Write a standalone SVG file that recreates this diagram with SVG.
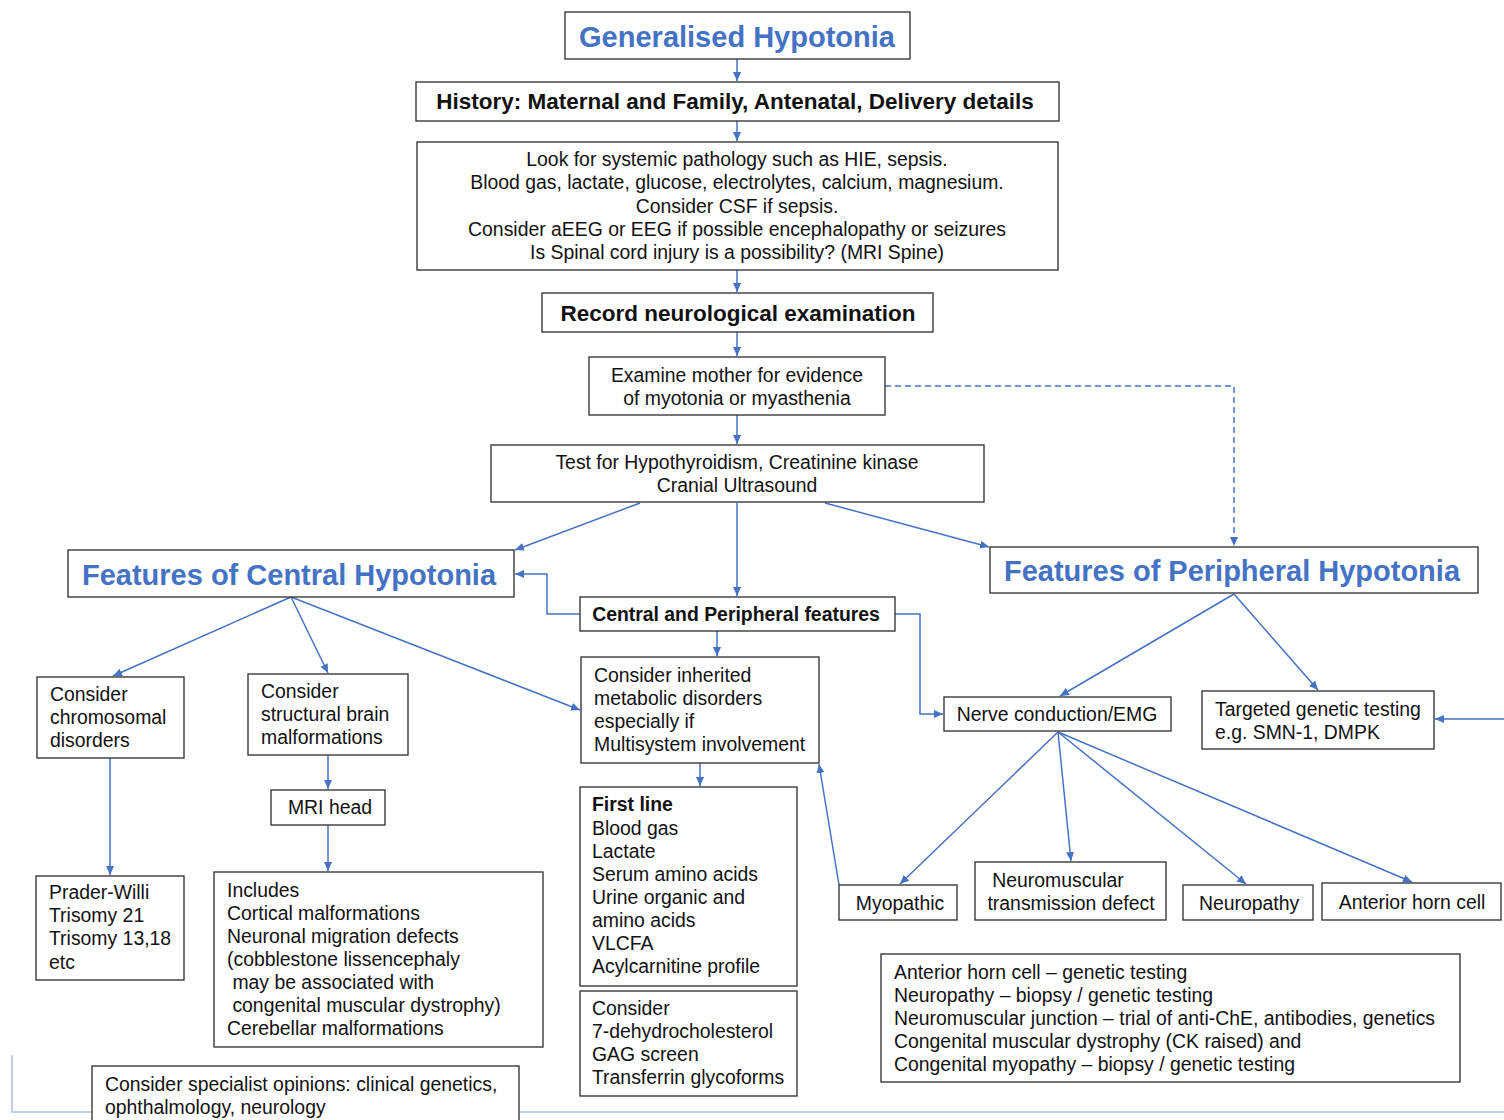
<svg xmlns="http://www.w3.org/2000/svg" width="1504" height="1120" viewBox="0 0 1504 1120">
<defs>
<style>
.box{fill:#fff;stroke:#3a3a3a;stroke-width:1.4}
.t{font-family:"Liberation Sans",Arial,sans-serif;font-size:19.4px;fill:#111}
.c{text-anchor:middle}
.b{font-weight:bold}
.h{font-family:"Liberation Sans",Arial,sans-serif;font-weight:bold;font-size:29px;fill:#4472C4}
.ln{fill:none;stroke:#4472C4;stroke-width:1.5;marker-end:url(#ah)}
.dash{stroke-dasharray:6,4}
.lb{fill:none;stroke:#a9c1ea;stroke-width:1.5}
</style>
<marker id="ah" viewBox="0 0 10 10" refX="10" refY="5" markerWidth="9" markerHeight="9" orient="auto" markerUnits="userSpaceOnUse"><path d="M0,0.5 L10,5 L0,9.5 z" fill="#4472C4"/></marker>
</defs>
<rect width="1504" height="1120" fill="#fff"/>

<g id="connectors">
<line class="ln" x1="737" y1="59" x2="737" y2="81"/>
<line class="ln" x1="737" y1="121" x2="737" y2="141"/>
<line class="ln" x1="737" y1="270" x2="737" y2="292"/>
<line class="ln" x1="737" y1="332" x2="737" y2="356"/>
<line class="ln" x1="737" y1="415" x2="737" y2="444"/>
<polyline class="ln dash" points="885,386 1234,386 1234,546"/>
<line class="ln" x1="640" y1="503" x2="515" y2="550"/>
<line class="ln" x1="737" y1="503" x2="737" y2="596"/>
<line class="ln" x1="825" y1="503" x2="989" y2="547"/>
<polyline class="ln" points="580,614 547,614 547,574 515,574"/>
<polyline class="ln" points="895,614 920,614 920,714 943,714"/>
<line class="ln" x1="717" y1="631" x2="717" y2="656"/>
<line class="ln" x1="291" y1="597" x2="113" y2="676"/>
<line class="ln" x1="291" y1="597" x2="328" y2="673"/>
<line class="ln" x1="291" y1="597" x2="580" y2="710"/>
<line class="ln" x1="110" y1="758" x2="110" y2="875"/>
<line class="ln" x1="328" y1="755" x2="328" y2="789"/>
<line class="ln" x1="328" y1="825" x2="328" y2="871"/>
<line class="ln" x1="700" y1="763" x2="700" y2="786"/>
<line class="ln" x1="839" y1="885" x2="819" y2="764"/>
<line class="ln" x1="1234" y1="594" x2="1060" y2="696"/>
<line class="ln" x1="1234" y1="594" x2="1318" y2="690"/>
<line class="ln" x1="1504" y1="719" x2="1435" y2="719"/>
<line class="ln" x1="1058" y1="732" x2="900" y2="884"/>
<line class="ln" x1="1058" y1="732" x2="1071" y2="861"/>
<line class="ln" x1="1058" y1="732" x2="1246" y2="884"/>
<line class="ln" x1="1058" y1="732" x2="1412" y2="882"/>
<polyline class="lb" points="12,1055 12,1112 92,1112"/>
<line class="lb" x1="519" y1="1112" x2="1504" y2="1112"/>
</g>

<g id="n-generalised">
<rect class="box" x="565" y="12" width="345" height="47"/>
<text class="h c" x="737" y="47">Generalised Hypotonia</text>
</g>
<g id="n-history">
<rect class="box" x="416" y="82" width="643" height="39"/>
<text class="t b c" x="735" y="109" style="font-size:22.5px">History: Maternal and Family, Antenatal, Delivery details</text>
</g>
<g id="n-systemic">
<rect class="box" x="417" y="142" width="641" height="128"/>
<text class="t c" x="737" y="166">Look for systemic pathology such as HIE, sepsis.</text>
<text class="t c" x="737" y="189">Blood gas, lactate, glucose, electrolytes, calcium, magnesium.</text>
<text class="t c" x="737" y="213">Consider CSF if sepsis.</text>
<text class="t c" x="737" y="236">Consider aEEG or EEG if possible encephalopathy or seizures</text>
<text class="t c" x="737" y="259">Is Spinal cord injury is a possibility? (MRI Spine)</text>
</g>
<g id="n-record">
<rect class="box" x="542" y="293" width="391" height="39"/>
<text class="t b c" x="738" y="321" style="font-size:22.5px">Record neurological examination</text>
</g>
<g id="n-mother">
<rect class="box" x="589" y="357" width="296" height="58"/>
<text class="t c" x="737" y="382">Examine mother for evidence</text>
<text class="t c" x="737" y="405">of myotonia or myasthenia</text>
</g>
<g id="n-test">
<rect class="box" x="491" y="445" width="493" height="57"/>
<text class="t c" x="737" y="469">Test for Hypothyroidism, Creatinine kinase</text>
<text class="t c" x="737" y="492">Cranial Ultrasound</text>
</g>
<g id="n-central">
<rect class="box" x="68" y="550" width="446" height="47"/>
<text class="h c" x="289" y="585">Features of Central Hypotonia</text>
</g>
<g id="n-peripheral">
<rect class="box" x="990" y="547" width="488" height="46"/>
<text class="h c" x="1232" y="581">Features of Peripheral Hypotonia</text>
</g>
<g id="n-both">
<rect class="box" x="580" y="597" width="315" height="34"/>
<text class="t b c" x="736" y="621">Central and Peripheral features</text>
</g>
<g id="n-chromosomal">
<rect class="box" x="37" y="677" width="147" height="81"/>
<text class="t" x="50" y="701">Consider</text>
<text class="t" x="50" y="724">chromosomal</text>
<text class="t" x="50" y="747">disorders</text>
</g>
<g id="n-structural">
<rect class="box" x="248" y="674" width="160" height="81"/>
<text class="t" x="261" y="698">Consider</text>
<text class="t" x="261" y="721">structural brain</text>
<text class="t" x="261" y="744">malformations</text>
</g>
<g id="n-metabolic">
<rect class="box" x="581" y="657" width="238" height="106"/>
<text class="t" x="594" y="682">Consider inherited</text>
<text class="t" x="594" y="705">metabolic disorders</text>
<text class="t" x="594" y="728">especially if</text>
<text class="t" x="594" y="751">Multisystem involvement</text>
</g>
<g id="n-prader">
<rect class="box" x="36" y="876" width="148" height="104"/>
<text class="t" x="49" y="899">Prader-Willi</text>
<text class="t" x="49" y="922">Trisomy 21</text>
<text class="t" x="49" y="945">Trisomy 13,18</text>
<text class="t" x="49" y="969">etc</text>
</g>
<g id="n-mri">
<rect class="box" x="271" y="790" width="114" height="35"/>
<text class="t c" x="330" y="814">MRI head</text>
</g>
<g id="n-includes">
<rect class="box" x="214" y="872" width="329" height="175"/>
<text class="t" x="227" y="897">Includes</text>
<text class="t" x="227" y="920">Cortical malformations</text>
<text class="t" x="227" y="943">Neuronal migration defects</text>
<text class="t" x="227" y="966">(cobblestone lissencephaly</text>
<text class="t" x="227" y="989" xml:space="preserve"> may be associated with</text>
<text class="t" x="227" y="1012" xml:space="preserve"> congenital muscular dystrophy)</text>
<text class="t" x="227" y="1035">Cerebellar malformations</text>
</g>
<g id="n-firstline">
<rect class="box" x="580" y="787" width="217" height="199"/>
<text class="t b" x="592" y="811">First line</text>
<text class="t" x="592" y="835">Blood gas</text>
<text class="t" x="592" y="858">Lactate</text>
<text class="t" x="592" y="881">Serum amino acids</text>
<text class="t" x="592" y="904">Urine organic and</text>
<text class="t" x="592" y="927">amino acids</text>
<text class="t" x="592" y="950">VLCFA</text>
<text class="t" x="592" y="973">Acylcarnitine profile</text>
</g>
<g id="n-consider2">
<rect class="box" x="580" y="991" width="217" height="105"/>
<text class="t" x="592" y="1015">Consider</text>
<text class="t" x="592" y="1038">7-dehydrocholesterol</text>
<text class="t" x="592" y="1061">GAG screen</text>
<text class="t" x="592" y="1084">Transferrin glycoforms</text>
</g>
<g id="n-nerve">
<rect class="box" x="944" y="697" width="227" height="34"/>
<text class="t c" x="1057" y="721">Nerve conduction/EMG</text>
</g>
<g id="n-targeted">
<rect class="box" x="1202" y="691" width="232" height="58"/>
<text class="t" x="1215" y="716">Targeted genetic testing</text>
<text class="t" x="1215" y="739">e.g. SMN-1, DMPK</text>
</g>
<g id="n-myopathic">
<rect class="box" x="839" y="885" width="118" height="35"/>
<text class="t c" x="900" y="910">Myopathic</text>
</g>
<g id="n-nmj">
<rect class="box" x="975" y="862" width="191" height="58"/>
<text class="t c" x="1058" y="887">Neuromuscular</text>
<text class="t c" x="1071" y="910">transmission defect</text>
</g>
<g id="n-neuropathy">
<rect class="box" x="1183" y="885" width="130" height="35"/>
<text class="t c" x="1249" y="910">Neuropathy</text>
</g>
<g id="n-anterior">
<rect class="box" x="1322" y="883" width="179" height="37"/>
<text class="t c" x="1412" y="909">Anterior horn cell</text>
</g>
<g id="n-summary">
<rect class="box" x="881" y="954" width="579" height="128"/>
<text class="t" x="894" y="979">Anterior horn cell – genetic testing</text>
<text class="t" x="894" y="1002">Neuropathy – biopsy / genetic testing</text>
<text class="t" x="894" y="1025">Neuromuscular junction – trial of anti-ChE, antibodies, genetics</text>
<text class="t" x="894" y="1048">Congenital muscular dystrophy (CK raised) and</text>
<text class="t" x="894" y="1071">Congenital myopathy – biopsy / genetic testing</text>
</g>
<g id="n-specialist">
<rect class="box" x="92" y="1066" width="427" height="60"/>
<text class="t" x="105" y="1091">Consider specialist opinions: clinical genetics,</text>
<text class="t" x="105" y="1114">ophthalmology, neurology</text>
</g>
</svg>
